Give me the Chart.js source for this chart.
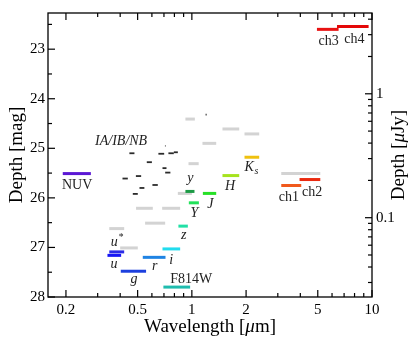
<!DOCTYPE html>
<html>
<head>
<meta charset="utf-8">
<script src="https://cdn.jsdelivr.net/npm/chart.js@4.4.1/dist/chart.umd.min.js"></script>
<style>
  html, body { margin: 0; padding: 0; background: #fff; }
  #depthChart { display: block; }
</style>
</head>
<body>
<canvas id="depthChart" width="416" height="344"></canvas>
<script>
// broad-band filters: wavelength range [um] and depth [mag]
const bandNames = ['NUV', 'u*', 'u', 'g', 'r', 'i', 'F814W', 'z', 'y', 'Y', 'J', 'H', 'Ks', 'ch1', 'ch2', 'ch3', 'ch4'];
const bandLo = [0.192, 0.348, 0.340, 0.403, 0.534, 0.687, 0.695, 0.842, 0.921, 0.962, 1.151, 1.479, 1.960, 3.135, 3.961, 4.947, 6.392];
const bandHi = [0.275, 0.421, 0.405, 0.557, 0.714, 0.861, 0.978, 0.950, 1.034, 1.094, 1.365, 1.832, 2.365, 4.048, 5.163, 6.524, 9.575];
const bandDepth = [25.51, 27.09, 27.16, 27.48, 27.20, 27.03, 27.80, 26.57, 25.87, 26.10, 25.91, 25.55, 25.18, 25.75, 25.63, 22.60, 22.54];

// other surveys (light grey)
const otherLo = [0.348, 0.400, 0.490, 0.550, 0.684, 0.836, 0.921, 0.958, 1.145, 1.479, 1.960, 3.135];
const otherHi = [0.421, 0.501, 0.607, 0.711, 0.861, 1.000, 1.039, 1.091, 1.365, 1.832, 2.365, 5.163];
const otherDepth = [26.62, 27.01, 26.21, 26.51, 26.21, 25.91, 24.41, 25.31, 24.90, 24.61, 24.71, 25.51];

// IA/IB/NB medium and narrow bands
const mediumLo = [0.450, 0.652, 0.741, 0.794, 0.562, 0.687, 0.711, 0.489, 0.412, 0.604, 0.512, 0.470, 0.709, 1.192];
const mediumHi = [0.480, 0.702, 0.794, 0.836, 0.600, 0.723, 0.760, 0.523, 0.441, 0.647, 0.545, 0.501, 0.714, 1.208];
const mediumDepth = [25.10, 25.11, 25.10, 25.08, 25.28, 25.40, 25.49, 25.56, 25.61, 25.74, 25.80, 25.92, 24.95, 24.32];

// axes
const magTop = 22.27;
const magBottom = 28;
const waveMin = 0.159;
const waveMax = 10;
const waveTicks = [0.2, 0.5, 1, 2, 5, 10];
const waveMinorTicks = [0.3, 0.4, 0.6, 0.7, 0.8, 0.9, 3, 4, 6, 7, 8, 9];
const magTicks = [23, 24, 25, 26, 27, 28];
const magMinorTicks = [22.5, 23.5, 24.5, 25.5, 26.5, 27.5];
const fluxTicks = [0.1, 1];
const fluxMinorTicks = [0.03, 0.04, 0.05, 0.06, 0.07, 0.08, 0.09, 0.2, 0.3, 0.4, 0.5, 0.6, 0.7, 0.8, 0.9, 2, 3, 4];

const fluxFromMag = (m) => Math.pow(10, (23.9 - m) / 2.5);

const bandColors = {
  'NUV': '#5b17d4', 'u*': '#2a2ae6', 'u': '#1616f5', 'g': '#1c3fde', 'r': '#1f83e3',
  'i': '#22dcee', 'F814W': '#1fbcae', 'z': '#22e0a6', 'y': '#1c9a45', 'Y': '#22e25a',
  'J': '#26e026', 'H': '#a6e31e', 'Ks': '#efc10f', 'ch1': '#f0591c', 'ch2': '#ea2a10',
  'ch3': '#e81212', 'ch4': '#e40808',
};

// label text and offset [dx, baseline dy] from the bar centre, px
const bandLabels = {
  'NUV': { main: 'NUV', at: [0.3, 15.7] },
  'u*': { main: 'u', sup: '*', italic: true, at: [0, -6] },
  'u': { main: 'u', italic: true, at: [-0.2, 12.3] },
  'g': { main: 'g', italic: true, at: [0.7, 11.5] },
  'r': { main: 'r', italic: true, at: [0.5, 12.6] },
  'i': { main: 'i', italic: true, at: [-0.2, 14.7] },
  'F814W': { main: 'F814W', at: [14.5, -4.3] },
  'z': { main: 'z', italic: true, at: [0.5, 12.7] },
  'y': { main: 'y', italic: true, at: [0.5, -9] },
  'Y': { main: 'Y', italic: true, at: [0.6, 13.7] },
  'J': { main: 'J', italic: true, at: [0.7, 14.3] },
  'H': { main: 'H', italic: true, at: [-0.7, 14.6] },
  'Ks': { main: 'K', sub: 's', italic: true, at: [-0.7, 14] },
  'ch1': { main: 'ch1', at: [-2.3, 15.6] },
  'ch2': { main: 'ch2', at: [2.3, 16] },
  'ch3': { main: 'ch3', at: [0.8, 16] },
  'ch4': { main: 'ch4', at: [1.5, 16.3] },
};
const mediumLabel = { main: 'IA/IB/NB', italic: true, at: [-10.8, -8] };

const FONT = '"Liberation Serif", "DejaVu Serif", serif';

function segment(lo, hi, depth, color, width, order) {
  return {
    data: [{ x: lo, y: depth }, { x: hi, y: depth }],
    showLine: true,
    borderColor: color,
    borderWidth: width,
    borderCapStyle: 'butt',
    pointRadius: 0,
    pointHoverRadius: 0,
    order: order,
  };
}

const datasets = [];
bandNames.forEach((name, i) => {
  datasets.push(segment(bandLo[i], bandHi[i], bandDepth[i], bandColors[name], 3, 0));
});
mediumLo.forEach((lo, i) => {
  datasets.push(segment(lo, mediumHi[i], mediumDepth[i], '#2b2b2b', 1.8, 1));
});
otherLo.forEach((lo, i) => {
  datasets.push(segment(lo, otherHi[i], otherDepth[i], '#d3d3d3', 3, 2));
});

function drawRich(ctx, spec, cx, baseY, size) {
  const font = (s) => `${spec.italic ? 'italic ' : ''}${s}px ${FONT}`;
  ctx.font = font(size);
  const w1 = ctx.measureText(spec.main).width;
  const extra = spec.sub || spec.sup;
  let w2 = 0;
  if (extra) {
    ctx.font = font(size * 0.7);
    w2 = ctx.measureText(extra).width;
  }
  const x0 = cx - (w1 + w2) / 2;
  ctx.textAlign = 'left';
  ctx.textBaseline = 'alphabetic';
  ctx.font = font(size);
  ctx.fillText(spec.main, x0, baseY);
  if (extra) {
    ctx.font = font(size * 0.7);
    const dy = spec.sub ? size * 0.2 : -size * 0.4;
    ctx.fillText(extra, x0 + w1 + 0.5, baseY + dy);
  }
}

const decorations = {
  id: 'decorations',
  afterDraw(chart) {
    const { ctx, chartArea: a, scales } = chart;
    const xs = scales.x, ys = scales.y, fs = scales.y2;
    ctx.save();

    // labels
    ctx.fillStyle = '#222';
    bandNames.forEach((name, i) => {
      const lab = bandLabels[name];
      const cx = (xs.getPixelForValue(bandLo[i]) + xs.getPixelForValue(bandHi[i])) / 2;
      const cy = ys.getPixelForValue(bandDepth[i]);
      drawRich(ctx, lab, cx + lab.at[0], cy + lab.at[1], 14);
    });
    const mx = (xs.getPixelForValue(mediumLo[0]) + xs.getPixelForValue(mediumHi[0])) / 2;
    const my = ys.getPixelForValue(mediumDepth[0]);
    drawRich(ctx, mediumLabel, mx + mediumLabel.at[0], my + mediumLabel.at[1], 14);

    // frame and inward ticks
    ctx.strokeStyle = '#000';
    ctx.lineWidth = 1.3;
    ctx.strokeRect(a.left, a.top, a.right - a.left, a.bottom - a.top);
    ctx.lineWidth = 1.2;
    const line = (x1, y1, x2, y2) => {
      ctx.beginPath();
      ctx.moveTo(x1, y1);
      ctx.lineTo(x2, y2);
      ctx.stroke();
    };
    const xTick = (v, len) => {
      const px = xs.getPixelForValue(v);
      line(px, a.bottom, px, a.bottom - len);
      line(px, a.top, px, a.top + len);
    };
    waveTicks.forEach((v) => xTick(v, 7));
    waveMinorTicks.forEach((v) => xTick(v, 4));
    magTicks.forEach((v) => {
      const py = ys.getPixelForValue(v);
      line(a.left, py, a.left + 7, py);
    });
    magMinorTicks.forEach((v) => {
      const py = ys.getPixelForValue(v);
      line(a.left, py, a.left + 4, py);
    });
    fluxTicks.forEach((v) => {
      const py = fs.getPixelForValue(v);
      line(a.right, py, a.right - 7, py);
    });
    fluxMinorTicks.forEach((v) => {
      const py = fs.getPixelForValue(v);
      line(a.right, py, a.right - 4, py);
    });

    // axis titles
    ctx.fillStyle = '#000';
    const midY = (a.top + a.bottom) / 2;
    ctx.save();
    ctx.translate(16, midY);
    ctx.rotate(-Math.PI / 2);
    drawParts(ctx, [['Depth [mag]', false]], 0, 6, 19);
    ctx.restore();
    ctx.save();
    ctx.translate(398, midY);
    ctx.rotate(-Math.PI / 2);
    drawParts(ctx, [['Depth [', false], ['\u03bc', true], ['Jy]', false]], 0, 6, 19);
    ctx.restore();
    drawParts(ctx, [['Wavelength [', false], ['\u03bc', true], ['m]', false]], (a.left + a.right) / 2, 332, 19);

    ctx.restore();
  },
};

function drawParts(ctx, parts, cx, baseY, size) {
  const fonts = parts.map(([, it]) => `${it ? 'italic ' : ''}${size}px ${FONT}`);
  let total = 0;
  const widths = parts.map(([t], k) => {
    ctx.font = fonts[k];
    const w = ctx.measureText(t).width;
    total += w;
    return w;
  });
  let x = cx - total / 2;
  ctx.textAlign = 'left';
  ctx.textBaseline = 'alphabetic';
  parts.forEach(([t], k) => {
    ctx.font = fonts[k];
    ctx.fillText(t, x, baseY);
    x += widths[k];
  });
}

const tickFont = { family: FONT, size: 15 };

new Chart(document.getElementById('depthChart'), {
  type: 'scatter',
  data: { datasets },
  options: {
    responsive: false,
    animation: false,
    events: [],
    layout: { padding: { top: 7, left: 0, right: 0, bottom: 0 } },
    plugins: { legend: { display: false }, tooltip: { enabled: false } },
    scales: {
      x: {
        type: 'logarithmic',
        min: waveMin,
        max: waveMax,
        grid: { display: false, drawTicks: false },
        border: { display: false },
        afterBuildTicks: (s) => { s.ticks = waveTicks.map((v) => ({ value: v })); },
        afterFit: (s) => { s.height = 47; },
        ticks: {
          autoSkip: false, maxRotation: 0, padding: 4, color: '#000', font: tickFont,
          callback: (v) => String(v),
        },
      },
      y: {
        type: 'linear',
        position: 'left',
        reverse: true,
        min: magTop,
        max: magBottom,
        grid: { display: false, drawTicks: false },
        border: { display: false },
        afterBuildTicks: (s) => { s.ticks = magTicks.map((v) => ({ value: v })); },
        afterFit: (s) => { s.width = 48; },
        ticks: { autoSkip: false, padding: 3, color: '#000', font: tickFont },
      },
      y2: {
        type: 'logarithmic',
        position: 'right',
        min: fluxFromMag(magBottom),
        max: fluxFromMag(magTop),
        grid: { display: false, drawTicks: false },
        border: { display: false },
        afterBuildTicks: (s) => { s.ticks = fluxTicks.map((v) => ({ value: v })); },
        afterFit: (s) => { s.width = 44; },
        ticks: {
          autoSkip: false, padding: 4, color: '#000', font: tickFont,
          callback: (v) => String(v),
        },
      },
    },
  },
  plugins: [decorations],
});
</script>
</body>
</html>
